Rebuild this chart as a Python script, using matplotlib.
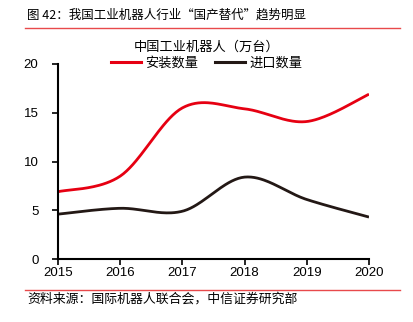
import numpy as np
import matplotlib.pyplot as plt
from matplotlib.lines import Line2D

plt.rcParams['font.family'] = ['Liberation Sans', 'Noto Sans CJK SC', 'DejaVu Sans']

years = [2015, 2016, 2017, 2018, 2019, 2020]
installed = [6.9, 8.5, 15.5, 15.4, 14.1, 16.9]
imported = [4.6, 5.2, 4.9, 8.4, 6.1, 4.3]

RED = '#E60012'
DARK = '#231815'
CJK = ['Noto Sans CJK SC', 'DejaVu Sans']


def smooth(x, y, n=40):
    """Excel-style smoothed line: Catmull-Rom through the points as cubic Bezier."""
    x = np.asarray(x, float)
    y = np.asarray(y, float)
    px = np.concatenate([[x[0]], x, [x[-1]]])
    py = np.concatenate([[y[0]], y, [y[-1]]])
    xs, ys = [], []
    t = np.linspace(0, 1, n)
    for i in range(1, len(px) - 2):
        p0 = np.array([px[i], py[i]])
        p3 = np.array([px[i + 1], py[i + 1]])
        p1 = p0 + (np.array([px[i + 1], py[i + 1]]) - np.array([px[i - 1], py[i - 1]])) / 6
        p2 = p3 - (np.array([px[i + 2], py[i + 2]]) - np.array([px[i], py[i]])) / 6
        b = ((1 - t) ** 3)[:, None] * p0 + (3 * (1 - t) ** 2 * t)[:, None] * p1 \
            + (3 * (1 - t) * t ** 2)[:, None] * p2 + (t ** 3)[:, None] * p3
        xs.extend(b[:, 0])
        ys.extend(b[:, 1])
    return xs, ys


fig = plt.figure(figsize=(4.13, 3.22), dpi=100)
ax = fig.add_axes([58 / 413, 1 - 259 / 322, 311 / 413, 195 / 322])

sx, sy = smooth(years, installed)
ax.plot(sx, sy, color=RED, lw=2.0, solid_capstyle='butt')
sx, sy = smooth(years, imported)
ax.plot(sx, sy, color=DARK, lw=2.0, solid_capstyle='butt')

ax.set_xlim(2015, 2020)
ax.set_ylim(0, 20)
ax.set_yticks([0, 5, 10, 15, 20])
ax.set_xticks(years)
ax.spines['top'].set_visible(False)
ax.spines['right'].set_visible(False)
for s in ['left', 'bottom']:
    ax.spines[s].set_linewidth(1.5)
    ax.spines[s].set_color('black')
ax.tick_params(axis='both', length=4, width=1.2, labelsize=9.5, color='black')
ax.tick_params(axis='y', pad=10)
ax.tick_params(axis='x', pad=2)

handles = [Line2D([], [], color=RED, lw=2.2), Line2D([], [], color=DARK, lw=2.2)]
leg = fig.legend(handles, ['安装数量', '进口数量'], title='中国工业机器人（万台）',
                 loc='upper center', bbox_to_anchor=(0.5, 1 - 35 / 322), ncol=2,
                 frameon=False, fontsize=9.5, title_fontsize=9.5,
                 handlelength=2.3, handletextpad=0.3, columnspacing=1.3,
                 borderpad=0, labelspacing=0.2)
leg._legend_box.sep = 2

fig.text(27 / 413, 1 - 15 / 322, '图 42：我国工业机器人行业“国产替代”趋势明显',
         fontsize=9.0, va='center', ha='left', family=CJK)
fig.text(27 / 413, 1 - 299 / 322, '资料来源：国际机器人联合会，中信证券研究部',
         fontsize=9.3, va='center', ha='left', family=CJK)
fig.add_artist(Line2D([25 / 413, 400 / 413], [1 - 28 / 322, 1 - 28 / 322], color='#E8494B', lw=1))
fig.add_artist(Line2D([25 / 413, 400 / 413], [1 - 290 / 322, 1 - 290 / 322], color='#E8494B', lw=1))

fig.savefig('out.png', dpi=100)
